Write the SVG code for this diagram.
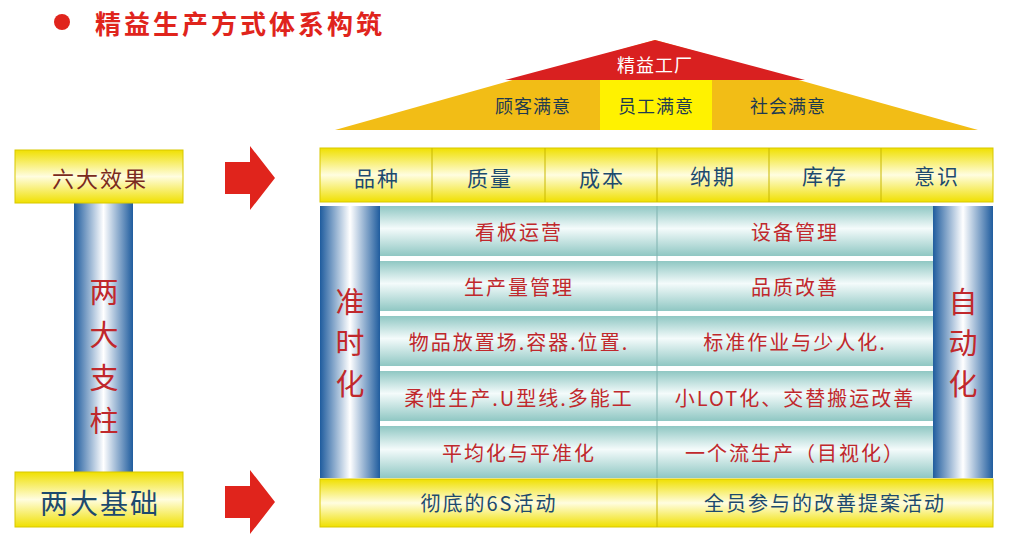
<svg xmlns="http://www.w3.org/2000/svg" width="1024" height="556" viewBox="0 0 1024 556">
<defs>
<linearGradient id="yel" x1="0" y1="0" x2="0" y2="1">
<stop offset="0" stop-color="#f0e000"/><stop offset="0.5" stop-color="#fffde0"/><stop offset="1" stop-color="#f0e000"/>
</linearGradient>
<linearGradient id="blu" x1="0" y1="0" x2="1" y2="0">
<stop offset="0" stop-color="#1f5c9e"/><stop offset="0.5" stop-color="#ffffff"/><stop offset="1" stop-color="#1f5c9e"/>
</linearGradient>
<linearGradient id="teal" x1="0" y1="0" x2="0" y2="1">
<stop offset="0" stop-color="#8fc7c3"/><stop offset="0.45" stop-color="#f4fbfb"/><stop offset="1" stop-color="#8fc7c3"/>
</linearGradient>
<style>
text{font-family:"Noto Sans CJK SC","Liberation Sans",sans-serif;text-anchor:middle;dominant-baseline:central}
.dk{fill:#1d4a6e;font-size:21px;letter-spacing:2px}
.rd{fill:#c0282c;font-size:20px;letter-spacing:2px}
.big{fill:#c0282c;font-size:29px}
.roof{fill:#1e3a50;font-size:18px;letter-spacing:1px}
.box{fill:url(#yel);stroke:#d8c800;stroke-width:1}
.div{stroke:#c8b800;stroke-width:1}
.arr{fill:#e0241c}
</style>
</defs>
<rect width="1024" height="556" fill="#ffffff"/>
<g id="title">
<circle cx="62" cy="22" r="8" fill="#e0241c"/>
<text x="95" y="22" style="font-size:26px;font-weight:bold;fill:#e0241c;text-anchor:start;letter-spacing:3px">精益生产方式体系构筑</text>
</g>
<g id="roof">
<polygon points="655,40 978,130 335,130" fill="#f2bd16"/>
<rect x="600" y="80" width="112" height="50" fill="#fff200"/>
<polygon points="655,40 805,80 505,80" fill="#d92020"/>
<text x="655" y="64" style="font-size:18px;fill:#ffffff;letter-spacing:1px">精益工厂</text>
<text class="roof" x="533" y="105">顾客满意</text>
<text class="roof" x="656" y="105">员工满意</text>
<text class="roof" x="788" y="105">社会满意</text>
</g>
<g id="six">
<rect class="box" x="320" y="148" width="673" height="54"/>
<line class="div" x1="432" y1="148" x2="432" y2="202"/>
<line class="div" x1="545" y1="148" x2="545" y2="202"/>
<line class="div" x1="657" y1="148" x2="657" y2="202"/>
<line class="div" x1="769" y1="148" x2="769" y2="202"/>
<line class="div" x1="881" y1="148" x2="881" y2="202"/>
<text class="dk" x="377" y="177">品种</text>
<text class="dk" x="490" y="177">质量</text>
<text class="dk" x="602" y="177">成本</text>
<text class="dk" x="713" y="175">纳期</text>
<text class="dk" x="825" y="175">库存</text>
<text class="dk" x="937" y="175">意识</text>
</g>
<g id="rows">
<g fill="url(#teal)">
<rect x="380" y="206" width="553" height="50"/>
<rect x="380" y="261" width="553" height="50"/>
<rect x="380" y="316" width="553" height="50"/>
<rect x="380" y="371" width="553" height="50"/>
<rect x="380" y="426" width="553" height="52"/>
</g>
<line x1="657" y1="206" x2="657" y2="478" stroke="#7fb3b0"/>
<text class="rd" x="519" y="231">看板运营</text>
<text class="rd" x="795" y="231">设备管理</text>
<text class="rd" x="519" y="286">生产量管理</text>
<text class="rd" x="795" y="286">品质改善</text>
<text class="rd" x="519" y="341">物品放置场.容器.位置.</text>
<text class="rd" x="795" y="341">标准作业与少人化.</text>
<text class="rd" x="519" y="397">柔性生产.U型线.多能工</text>
<text class="rd" x="795" y="397">小LOT化、交替搬运改善</text>
<text class="rd" x="519" y="452">平均化与平准化</text>
<text class="rd" x="795" y="452">一个流生产（目视化）</text>
</g>
<g id="jit">
<rect x="320" y="206" width="60" height="272" fill="url(#blu)"/>
<text class="big" x="350" y="300">准</text>
<text class="big" x="350" y="341">时</text>
<text class="big" x="350" y="382">化</text>
</g>
<g id="jidoka">
<rect x="933" y="206" width="60" height="272" fill="url(#blu)"/>
<text class="big" x="963" y="300">自</text>
<text class="big" x="963" y="341">动</text>
<text class="big" x="963" y="382">化</text>
</g>
<g id="base">
<rect class="box" x="320" y="479" width="673" height="48"/>
<line class="div" x1="657" y1="479" x2="657" y2="527"/>
<text class="dk" x="489" y="502" style="font-size:20px">彻底的6S活动</text>
<text class="dk" x="825" y="502" style="font-size:20px">全员参与的改善提案活动</text>
</g>
<g id="left">
<rect x="74" y="203" width="59" height="269" fill="url(#blu)"/>
<text class="big" x="104" y="290">两</text>
<text class="big" x="104" y="333">大</text>
<text class="big" x="104" y="376">支</text>
<text class="big" x="104" y="419">柱</text>
<rect class="box" x="15" y="150" width="168" height="53"/>
<text x="100" y="177" style="font-size:22px;fill:#7a2a20;letter-spacing:2px">六大效果</text>
<rect class="box" x="15" y="472" width="168" height="55"/>
<text x="100" y="502" style="font-size:28px;fill:#1d4a6e;letter-spacing:2px">两大基础</text>
</g>
<g id="connectors">
<polygon class="arr" points="225,162 250,162 250,146 275,178 250,210 250,194 225,194"/>
<polygon class="arr" points="225,486 250,486 250,470 275,502 250,534 250,518 225,518"/>
</g>
</svg>
